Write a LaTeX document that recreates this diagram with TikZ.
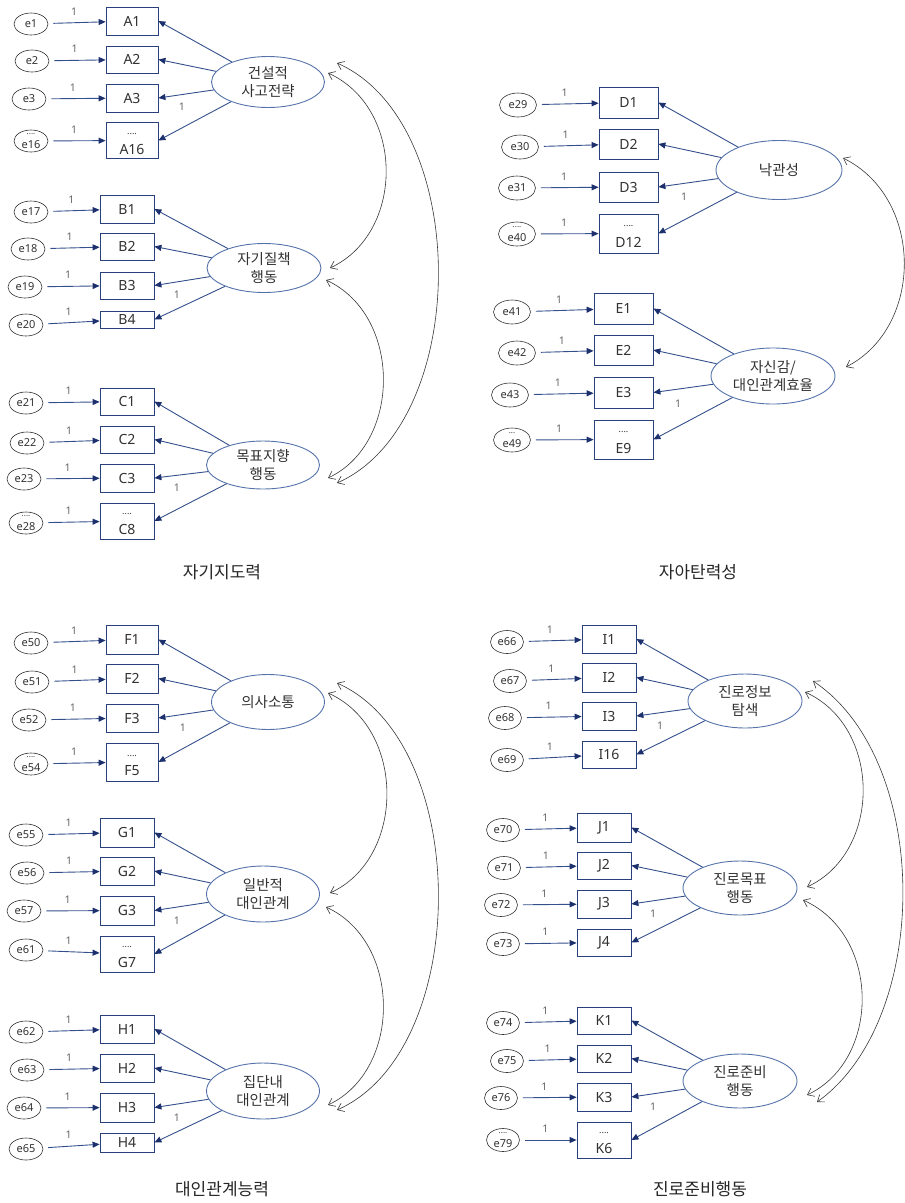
\documentclass[tikz,border=0pt]{standalone}
\usepackage{fontspec}
\setmainfont{Noto Sans}
\newfontfamily\krfont{Noto Sans CJK KR}
\usetikzlibrary{shapes.geometric,arrows.meta}
\definecolor{navyline}{RGB}{52,80,140}
\definecolor{navyhead}{RGB}{28,48,110}
\definecolor{boxcol}{RGB}{40,65,125}
\definecolor{latcol}{RGB}{85,115,170}
\definecolor{txt}{RGB}{50,50,50}
\definecolor{lblcol}{RGB}{100,100,100}
\definecolor{covcol}{RGB}{55,55,55}
\tikzset{
  err/.style={ellipse, draw=black!80, line width=0.6pt, inner sep=0pt, text=txt, font=\fontsize{11}{11}\selectfont},
  errS/.style={err, minimum width=34pt, minimum height=22pt},
  errM/.style={err, minimum width=37pt, minimum height=24pt},
  errN/.style={err, minimum width=33pt, minimum height=23pt},
  errtxt/.style={inner sep=0pt, text=txt, font=\fontsize{11}{11}\selectfont},
  obs/.style={rectangle, draw=boxcol, line width=0.8pt, inner sep=0pt, text=txt, font=\fontsize{14}{14}\selectfont},
  boxtxt/.style={inner sep=0pt, text=txt, font=\fontsize{14}{14}\selectfont},
  dotsty/.style={inner sep=0pt, text=txt, font=\fontsize{9}{9}\selectfont},
  edotsty/.style={inner sep=0pt, text=txt, font=\fontsize{8}{8}\selectfont},
  lat/.style={ellipse, draw=latcol, line width=0.9pt, inner sep=0pt, text=txt, align=center, font=\krfont\fontsize{14.5}{18}\selectfont},
  ea/.style={draw=navyline, line width=0.9pt, -{Triangle[length=7pt,width=6pt,color=navyhead]}, shorten <=5pt},
  la/.style={draw=navyline, line width=0.9pt, -{Triangle[length=7pt,width=6pt,color=navyhead]}},
  one/.style={text=lblcol, font=\fontsize{10.5}{10}\selectfont, inner sep=1pt},
  cov/.style={draw=covcol, line width=0.6pt, {Straight Barb[length=6pt,width=9pt]}-{Straight Barb[length=6pt,width=9pt]}},
  ttl/.style={text=black!85, font=\krfont\fontsize{17}{20}\selectfont},
}
\begin{document}
\begin{tikzpicture}[x=1pt,y=-1pt]
\useasboundingbox (0,0) rectangle (905,1203);

% ================= Block A =================
\node[lat, minimum width=113pt, minimum height=51pt] (LA) at (268,82) {건설적\\사고전략};
\node[obs, minimum width=52pt, minimum height=28pt] (A1) at (132,21) {A1};
\node[obs, minimum width=52pt, minimum height=27pt] (A2) at (132,59.5) {A2};
\node[obs, minimum width=52pt, minimum height=28pt] (A3) at (132,98) {A3};
\node[obs, minimum width=52pt, minimum height=36pt] (A16) at (132,140.5) {};
\node[boxtxt, yshift=-8.5pt] (A16t) at (A16) {A16};
\node[dotsty, yshift=6.5pt] (A16d) at (A16) {....};
\node[errS] (e1) at (31,24) {e1};
\node[errS] (e2) at (32,61) {e2};
\node[errS] (e3) at (29,99) {e3};
\node[errS] (e16) at (31,141) {};
\node[errtxt, yshift=-3.5pt] (e16t) at (e16) {e16};
\node[edotsty, yshift=6.5pt] (e16d) at (e16) {....};
\draw[ea] (e1) -- node[one, pos=0.45, above=6pt] {1} (A1);
\draw[ea] (e2) -- node[one, pos=0.45, above=6pt] {1} (A2);
\draw[ea] (e3) -- node[one, pos=0.45, above=6pt] {1} (A3);
\draw[ea] (e16) -- node[one, pos=0.45, above=6pt] {1} (A16);
\draw[la] (LA) -- (A1.east);
\draw[la] (LA) -- (A2.east);
\draw[la] (LA) -- (A3.east);
\draw[la] (LA) -- (A16.east);
\node[one] (oA) at (182,107) {1};

% ================= Block B =================
\node[lat, minimum width=114pt, minimum height=49pt] (LB) at (264,268) {자기질책\\행동};
\node[obs, minimum width=54pt, minimum height=28pt] (B1) at (127,209) {B1};
\node[obs, minimum width=54pt, minimum height=27pt] (B2) at (127,246.5) {B2};
\node[obs, minimum width=54pt, minimum height=27pt] (B3) at (127,285.5) {B3};
\node[obs, minimum width=54pt, minimum height=17pt] (B4) at (127,319.5) {B4};
\node[errS] (e17) at (31,212) {e17};
\node[errS] (e18) at (28,249) {e18};
\node[errS] (e19) at (25,287) {e19};
\node[errS] (e20) at (26,325) {e20};
\draw[ea] (e17) -- node[one, pos=0.45, above=6pt] {1} (B1);
\draw[ea] (e18) -- node[one, pos=0.45, above=6pt] {1} (B2);
\draw[ea] (e19) -- node[one, pos=0.45, above=6pt] {1} (B3);
\draw[ea] (e20) -- node[one, pos=0.45, above=6pt] {1} (B4);
\draw[la] (LB) -- (B1.east);
\draw[la] (LB) -- (B2.east);
\draw[la] (LB) -- (B3.east);
\draw[la] (LB) -- (B4.east);
\node[one] (oB) at (177,295) {1};

% ================= Block C =================
\node[lat, minimum width=113pt, minimum height=48pt] (LC) at (263,465) {목표지향\\행동};
\node[obs, minimum width=54pt, minimum height=27pt] (C1) at (127,401.5) {C1};
\node[obs, minimum width=54pt, minimum height=27pt] (C2) at (127,439.5) {C2};
\node[obs, minimum width=54pt, minimum height=28pt] (C3) at (127,478) {C3};
\node[obs, minimum width=54pt, minimum height=36pt] (C8) at (127,521) {};
\node[boxtxt, yshift=-8pt] (C8t) at (C8) {C8};
\node[dotsty, yshift=6.5pt] (C8d) at (C8) {....};
\node[errS] (e21) at (26,403) {e21};
\node[errS] (e22) at (27,443) {e22};
\node[errS] (e23) at (24,479) {e23};
\node[errS] (e28) at (26,523) {};
\node[errtxt, yshift=-3.5pt] (e28t) at (e28) {e28};
\node[edotsty, yshift=6.5pt] (e28d) at (e28) {....};
\draw[ea] (e21) -- node[one, pos=0.45, above=6pt] {1} (C1);
\draw[ea] (e22) -- node[one, pos=0.45, above=6pt] {1} (C2);
\draw[ea] (e23) -- node[one, pos=0.45, above=6pt] {1} (C3);
\draw[ea] (e28) -- node[one, pos=0.45, above=6pt] {1} (C8);
\draw[la] (LC) -- (C1.east);
\draw[la] (LC) -- (C2.east);
\draw[la] (LC) -- (C3.east);
\draw[la] (LC) -- (C8.east);
\node[one] (oC) at (177,488) {1};

\node[ttl] (T1) at (222,572) {자기지도력};

% covariances left top
\coordinate (cAB1) at (328,73);  \coordinate (cAB2) at (330,268);
\coordinate (cAC1) at (337,63);  \coordinate (cAC2) at (337,483);
\coordinate (cBC1) at (326,280); \coordinate (cBC2) at (328,478);
\draw[cov] (cAB1) .. controls (405,108) and (405,233) .. (cAB2);
\draw[cov] (cAC1) .. controls (472,123) and (472,423) .. (cAC2);
\draw[cov] (cBC1) .. controls (402,315) and (402,443) .. (cBC2);

% ================= Block D =================
\node[lat, minimum width=126pt, minimum height=59pt] (LD) at (779,170) {낙관성};
\node[obs, minimum width=59pt, minimum height=31pt] (D1) at (628.5,102.5) {D1};
\node[obs, minimum width=59pt, minimum height=30pt] (D2) at (628.5,144) {D2};
\node[obs, minimum width=59pt, minimum height=30pt] (D3) at (628.5,187) {D3};
\node[obs, minimum width=59pt, minimum height=39pt] (D12) at (628.5,233.5) {};
\node[boxtxt, yshift=-9pt] (D12t) at (D12) {D12};
\node[dotsty, yshift=7.5pt] (D12d) at (D12) {....};
\node[errM] (e29) at (518,105) {e29};
\node[errM] (e30) at (520,147) {e30};
\node[errM] (e31) at (517,188) {e31};
\node[errM] (e40) at (517,234) {};
\node[errtxt, yshift=-3.5pt] (e40t) at (e40) {e40};
\node[edotsty, yshift=6.5pt] (e40d) at (e40) {....};
\draw[ea] (e29) -- node[one, pos=0.45, above=6pt] {1} (D1);
\draw[ea] (e30) -- node[one, pos=0.45, above=6pt] {1} (D2);
\draw[ea] (e31) -- node[one, pos=0.45, above=6pt] {1} (D3);
\draw[ea] (e40) -- node[one, pos=0.45, above=6pt] {1} (D12);
\draw[la] (LD) -- (D1.east);
\draw[la] (LD) -- (D2.east);
\draw[la] (LD) -- (D3.east);
\draw[la] (LD) -- (D12.east);
\node[one] (oD) at (684,197) {1};

% ================= Block E =================
\node[lat, minimum width=124pt, minimum height=56pt] (LE) at (773,376) {자신감/\\대인관계효율};
\node[obs, minimum width=59pt, minimum height=31pt] (E1) at (623.5,308.5) {E1};
\node[obs, minimum width=59pt, minimum height=30pt] (E2) at (623.5,350) {E2};
\node[obs, minimum width=59pt, minimum height=31pt] (E3) at (623.5,392.5) {E3};
\node[obs, minimum width=59pt, minimum height=39pt] (E9) at (623.5,439.5) {};
\node[boxtxt, yshift=-8.5pt] (E9t) at (E9) {E9};
\node[dotsty, yshift=7.5pt] (E9d) at (E9) {....};
\node[errM] (e41) at (512,312) {e41};
\node[errM] (e42) at (517,353) {e42};
\node[errM] (e43) at (510,395) {e43};
\node[errM] (e49) at (512,440) {};
\node[errtxt, yshift=-3.5pt] (e49t) at (e49) {e49};
\node[edotsty, yshift=6.5pt] (e49d) at (e49) {...};
\draw[ea] (e41) -- node[one, pos=0.45, above=6pt] {1} (E1);
\draw[ea] (e42) -- node[one, pos=0.45, above=6pt] {1} (E2);
\draw[ea] (e43) -- node[one, pos=0.45, above=6pt] {1} (E3);
\draw[ea] (e49) -- node[one, pos=0.45, above=6pt] {1} (E9);
\draw[la] (LE) -- (E1.east);
\draw[la] (LE) -- (E2.east);
\draw[la] (LE) -- (E3.east);
\draw[la] (LE) -- (E9.east);
\node[one] (oE) at (678,404) {1};

\node[ttl] (T2) at (698,572) {자아탄력성};

\coordinate (cDE1) at (843,158); \coordinate (cDE2) at (846,367);
\draw[cov] (cDE1) .. controls (924,198) and (924,327) .. (cDE2);

% ================= Block F =================
\node[lat, minimum width=113pt, minimum height=55pt] (LF) at (268,702) {의사소통};
\node[obs, minimum width=52pt, minimum height=29pt] (F1) at (132,639.5) {F1};
\node[obs, minimum width=52pt, minimum height=29pt] (F2) at (132,678.5) {F2};
\node[obs, minimum width=52pt, minimum height=28pt] (F3) at (132,718) {F3};
\node[obs, minimum width=52pt, minimum height=38pt] (F5) at (132,762) {};
\node[boxtxt, yshift=-9pt] (F5t) at (F5) {F5};
\node[dotsty, yshift=6pt] (F5d) at (F5) {....};
\node[errS] (e50) at (31,643) {e50};
\node[errS] (e51) at (32,682) {e51};
\node[errS] (e52) at (29,720) {e52};
\node[errS] (e54) at (31,764) {};
\node[errtxt, yshift=-3.5pt] (e54t) at (e54) {e54};
\node[edotsty, yshift=6.5pt] (e54d) at (e54) {....};
\draw[ea] (e50) -- node[one, pos=0.45, above=6pt] {1} (F1);
\draw[ea] (e51) -- node[one, pos=0.45, above=6pt] {1} (F2);
\draw[ea] (e52) -- node[one, pos=0.45, above=6pt] {1} (F3);
\draw[ea] (e54) -- node[one, pos=0.45, above=6pt] {1} (F5);
\draw[la] (LF) -- (F1.east);
\draw[la] (LF) -- (F2.east);
\draw[la] (LF) -- (F3.east);
\draw[la] (LF) -- (F5.east);
\node[one] (oF) at (183,728) {1};

% ================= Block G =================
\node[lat, minimum width=113pt, minimum height=56pt] (LG) at (263,894) {일반적\\대인관계};
\node[obs, minimum width=54pt, minimum height=29pt] (G1) at (127,832.5) {G1};
\node[obs, minimum width=54pt, minimum height=28pt] (G2) at (127,871) {G2};
\node[obs, minimum width=54pt, minimum height=29pt] (G3) at (127,910.5) {G3};
\node[obs, minimum width=54pt, minimum height=36pt] (G7) at (127,954) {};
\node[boxtxt, yshift=-8.5pt] (G7t) at (G7) {G7};
\node[dotsty, yshift=6.5pt] (G7d) at (G7) {....};
\node[errS] (e55) at (26,835) {e55};
\node[errS] (e56) at (27,873) {e56};
\node[errS] (e57) at (24,911) {e57};
\node[errS] (e61) at (26,950) {e61};
\draw[ea] (e55) -- node[one, pos=0.45, above=6pt] {1} (G1);
\draw[ea] (e56) -- node[one, pos=0.45, above=6pt] {1} (G2);
\draw[ea] (e57) -- node[one, pos=0.45, above=6pt] {1} (G3);
\draw[ea] (e61) -- node[one, pos=0.45, above=6pt] {1} (G7);
\draw[la] (LG) -- (G1.east);
\draw[la] (LG) -- (G2.east);
\draw[la] (LG) -- (G3.east);
\draw[la] (LG) -- (G7.east);
\node[one] (oG) at (177,921) {1};

% ================= Block H =================
\node[lat, minimum width=113pt, minimum height=56pt] (LH) at (263,1091) {집단내\\대인관계};
\node[obs, minimum width=54pt, minimum height=28pt] (H1) at (127,1029) {H1};
\node[obs, minimum width=54pt, minimum height=28pt] (H2) at (127,1068) {H2};
\node[obs, minimum width=54pt, minimum height=29pt] (H3) at (127,1107.5) {H3};
\node[obs, minimum width=54pt, minimum height=19pt] (H4) at (127,1142.5) {H4};
\node[errS] (e62) at (26,1032) {e62};
\node[errS] (e63) at (27,1070) {e63};
\node[errS] (e64) at (24,1108) {e64};
\node[errS] (e65) at (26,1149) {e65};
\draw[ea] (e62) -- node[one, pos=0.45, above=6pt] {1} (H1);
\draw[ea] (e63) -- node[one, pos=0.45, above=6pt] {1} (H2);
\draw[ea] (e64) -- node[one, pos=0.45, above=6pt] {1} (H3);
\draw[ea] (e65) -- node[one, pos=0.45, above=6pt] {1} (H4);
\draw[la] (LH) -- (H1.east);
\draw[la] (LH) -- (H2.east);
\draw[la] (LH) -- (H3.east);
\draw[la] (LH) -- (H4.east);
\node[one] (oH) at (177,1118) {1};

\node[ttl] (T3) at (222,1189) {대인관계능력};

\coordinate (cFG1) at (328,693);  \coordinate (cFG2) at (330,893);
\coordinate (cFH1) at (337,683);  \coordinate (cFH2) at (337,1110);
\coordinate (cGH1) at (326,907);  \coordinate (cGH2) at (328,1105);
\draw[cov] (cFG1) .. controls (406,728) and (406,858) .. (cFG2);
\draw[cov] (cFH1) .. controls (472,743) and (472,1050) .. (cFH2);
\draw[cov] (cGH1) .. controls (402,942) and (402,1070) .. (cGH2);

% ================= Block I =================
\node[lat, minimum width=114pt, minimum height=54pt] (LI) at (745,701) {진로정보\\탐색};
\node[obs, minimum width=54pt, minimum height=28pt] (I1) at (609,639) {I1};
\node[obs, minimum width=54pt, minimum height=29pt] (I2) at (609,677.5) {I2};
\node[obs, minimum width=54pt, minimum height=28pt] (I3) at (609,716) {I3};
\node[obs, minimum width=54pt, minimum height=27pt] (I16) at (609,754.5) {I16};
\node[errN] (e66) at (507,642) {e66};
\node[errN] (e67) at (510,681) {e67};
\node[errN] (e68) at (505,718) {e68};
\node[errN] (e69) at (507,760) {e69};
\draw[ea] (e66) -- node[one, pos=0.45, above=6pt] {1} (I1);
\draw[ea] (e67) -- node[one, pos=0.45, above=6pt] {1} (I2);
\draw[ea] (e68) -- node[one, pos=0.45, above=6pt] {1} (I3);
\draw[ea] (e69) -- node[one, pos=0.45, above=6pt] {1} (I16);
\draw[la] (LI) -- (I1.east);
\draw[la] (LI) -- (I2.east);
\draw[la] (LI) -- (I3.east);
\draw[la] (LI) -- (I16.east);
\node[one] (oI) at (660,726) {1};

% ================= Block J =================
\node[lat, minimum width=114pt, minimum height=54pt] (LJ) at (740,888) {진로목표\\행동};
\node[obs, minimum width=54pt, minimum height=29pt] (J1) at (604,827.5) {J1};
\node[obs, minimum width=54pt, minimum height=27pt] (J2) at (604,865.5) {J2};
\node[obs, minimum width=54pt, minimum height=28pt] (J3) at (604,904) {J3};
\node[obs, minimum width=54pt, minimum height=27pt] (J4) at (604,942.5) {J4};
\node[errN] (e70) at (503,830) {e70};
\node[errN] (e71) at (504,868) {e71};
\node[errN] (e72) at (501,905) {e72};
\node[errN] (e73) at (503,944) {e73};
\draw[ea] (e70) -- node[one, pos=0.45, above=6pt] {1} (J1);
\draw[ea] (e71) -- node[one, pos=0.45, above=6pt] {1} (J2);
\draw[ea] (e72) -- node[one, pos=0.45, above=6pt] {1} (J3);
\draw[ea] (e73) -- node[one, pos=0.45, above=6pt] {1} (J4);
\draw[la] (LJ) -- (J1.east);
\draw[la] (LJ) -- (J2.east);
\draw[la] (LJ) -- (J3.east);
\draw[la] (LJ) -- (J4.east);
\node[one] (oJ) at (653,914) {1};

% ================= Block K =================
\node[lat, minimum width=114pt, minimum height=54pt] (LK) at (740,1081) {진로준비\\행동};
\node[obs, minimum width=54pt, minimum height=27pt] (K1) at (604,1020.5) {K1};
\node[obs, minimum width=54pt, minimum height=27pt] (K2) at (604,1058.5) {K2};
\node[obs, minimum width=54pt, minimum height=28pt] (K3) at (604,1097) {K3};
\node[obs, minimum width=54pt, minimum height=36pt] (K6) at (604,1140) {};
\node[boxtxt, yshift=-8pt] (K6t) at (K6) {K6};
\node[dotsty, yshift=7pt] (K6d) at (K6) {....};
\node[errN] (e74) at (503,1023) {e74};
\node[errN] (e75) at (507,1061) {e75};
\node[errN] (e76) at (501,1098) {e76};
\node[errN] (e79) at (503,1140) {};
\node[errtxt, yshift=-3.5pt] (e79t) at (e79) {e79};
\node[edotsty, yshift=6.5pt] (e79d) at (e79) {....};
\draw[ea] (e74) -- node[one, pos=0.45, above=6pt] {1} (K1);
\draw[ea] (e75) -- node[one, pos=0.45, above=6pt] {1} (K2);
\draw[ea] (e76) -- node[one, pos=0.45, above=6pt] {1} (K3);
\draw[ea] (e79) -- node[one, pos=0.45, above=6pt] {1} (K6);
\draw[la] (LK) -- (K1.east);
\draw[la] (LK) -- (K2.east);
\draw[la] (LK) -- (K3.east);
\draw[la] (LK) -- (K6.east);
\node[one] (oK) at (653,1107) {1};

\node[ttl] (T4) at (700,1189) {진로준비행동};

\coordinate (cIJ1) at (805,692);  \coordinate (cIJ2) at (807,887);
\coordinate (cIK1) at (813,681);  \coordinate (cIK2) at (817,1102);
\coordinate (cJK1) at (803,900);  \coordinate (cJK2) at (807,1095);
\draw[cov] (cIJ1) .. controls (882,727) and (882,852) .. (cIJ2);
\draw[cov] (cIK1) .. controls (932,760) and (932,1020) .. (cIK2);
\draw[cov] (cJK1) .. controls (881,935) and (881,1060) .. (cJK2);
\end{tikzpicture}
\end{document}
